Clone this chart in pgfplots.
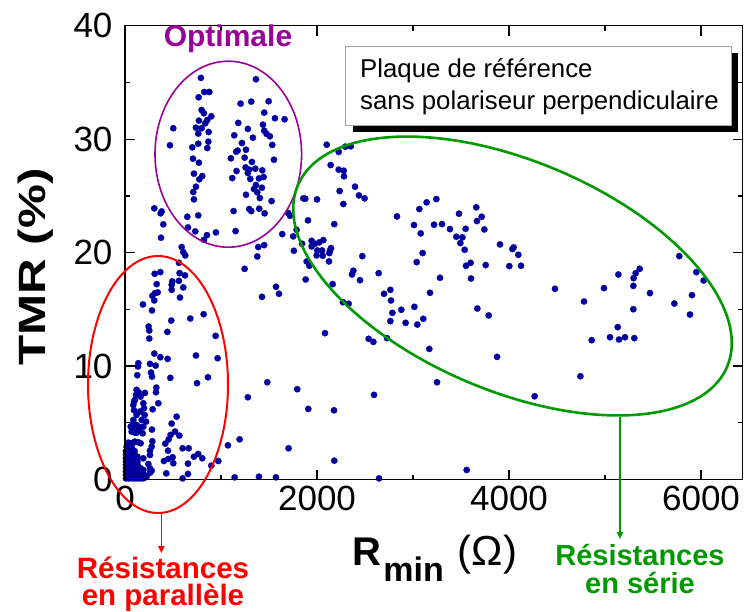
\documentclass[border=0pt]{standalone}
\usepackage{pgfplots}
\pgfplotsset{compat=1.18}
\usepackage{fontspec}
\setmainfont{Liberation Sans}
\definecolor{dotblue}{HTML}{0000A0}
\definecolor{mygreen}{HTML}{009A00}
\definecolor{mypurple}{HTML}{990099}
\newcommand{\fs}[1]{\fontsize{#1}{#1}\selectfont}
\begin{document}
\begin{tikzpicture}
\path[use as bounding box] (-125pt,-131.5pt) rectangle (619pt,479.5pt);
\begin{axis}[
  at={(0pt,0pt)},anchor=south west,
  scale only axis,width=617.7pt,height=453.8pt,
  xmin=0,xmax=6434,ymin=0,ymax=40,
  xtick={0,2000,4000,6000},minor xtick={1000,3000,5000},
  ytick={0,10,20,30,40},minor ytick={5,15,25,35},
  tick align=inside,major tick length=10pt,minor tick length=5pt,
  every tick/.style={black,line width=1.3pt},
  axis line style={line width=1.2pt},
  /pgf/number format/assume math mode=true,
  /pgf/number format/1000 sep={},
  tick label style={font=\fs{35}},
  xticklabel style={yshift=-3pt},
  yticklabel style={xshift=-9pt},
  xlabel={\bfseries\fs{40}R\kern1.5pt\raisebox{-0.42em}{\fs{34}min}\kern14pt\fs{42}\mdseries(Ω)},
  ylabel={\scalebox{1.3}[1]{\bfseries TMR (\%)}},
  xlabel style={font=\fs{38},at={(axis description cs:0.502,-0.1884)},anchor=base},
  ylabel style={font=\fs{38},at={(axis description cs:-0.1295,0.468)},anchor=base},
]
\addplot[only marks,mark=*,mark size=3.2pt,dotblue,mark options={draw=dotblue,fill=dotblue,line width=0.2pt}] table {
x y
562 19.10
309 18.13
368 18.28
569 18.19
625 17.99
330 17.22
493 17.46
562 17.51
486 17.16
607 16.93
486 16.72
340 16.49
312 16.43
285 16.19
305 15.78
573 16.04
187 15.43
281 14.90
819 14.57
680 14.19
482 14.01
246 13.49
253 13.13
441 13.01
253 12.43
944 12.66
305 11.10
368 10.78
444 10.63
739 10.93
965 10.69
139 10.25
135 9.96
260 10.19
319 10.04
271 9.43
281 9.07
128 9.19
472 8.96
864 9.01
750 8.49
1482 8.57
1794 7.96
326 8.10
323 7.69
121 7.90
142 7.69
208 7.63
1280 7.25
104 7.01
347 6.72
191 6.72
87 6.57
1909 6.22
288 6.19
94 6.10
198 6.28
205 5.69
121 5.69
538 5.54
219 5.10
486 4.93
87 4.96
121 4.81
87 4.51
191 4.66
104 4.13
149 4.37
184 4.07
281 4.40
521 4.22
566 3.87
475 3.93
455 3.54
420 3.16
1194 3.54
285 3.37
1072 3.01
139 3.28
87 3.25
35 3.25
278 2.90
260 2.54
600 2.75
663 2.75
448 2.54
1704 2.75
260 2.16
763 2.25
718 2.01
805 1.87
191 1.87
496 1.96
451 1.81
406 1.63
503 1.43
656 1.40
972 1.63
899 1.22
243 1.37
260 0.99
191 0.84
260 0.60
430 0.54
656 0.49
600 0.10
1142 0.19
1395 0.25
1572 0.19
87 5.25
174 5.25
156 5.99
115 7.46
94 6.87
139 4.66
69 4.22
59 4.66
121 4.13
163 7.30
104 3.34
59 3.13
17 2.90
163 3.19
191 0.54
225 0.25
278 0.78
10 0.1
10 0.4
10 0.7
10 1.0
10 1.3
10 1.6
10 1.9
10 2.2
10 2.5
40 0.1
40 0.4
40 0.7
40 1.0
40 1.3
40 1.6
40 1.9
40 2.2
40 2.5
40 2.8
70 0.1
70 0.4
70 0.7
70 1.0
70 1.3
70 1.6
70 1.9
70 2.2
70 2.5
70 2.8
100 0.1
100 0.4
100 0.7
100 1.0
100 1.3
100 1.6
100 1.9
100 2.2
100 2.5
130 0.1
130 0.4
130 0.7
130 1.0
130 1.3
130 1.6
130 2.0
160 0.1
160 0.4
160 0.7
160 1.0
190 0.1
190 0.4
215 0.2
791 35.40
1364 35.28
826 34.16
878 34.16
767 33.69
1204 33.13
1315 33.31
1496 33.34
798 32.57
822 32.28
1450 32.34
899 32.01
1562 31.84
1662 31.75
770 31.63
857 31.69
836 31.40
1180 31.43
1437 31.28
739 31.01
798 30.96
503 30.96
1280 30.90
871 30.63
1450 30.75
763 30.49
1475 30.46
1138 30.34
1509 30.25
1332 30.13
868 29.78
1218 29.66
763 29.60
468 29.46
1534 29.49
701 29.28
857 29.22
1260 29.07
1173 28.99
1159 28.90
708 28.28
1103 28.31
1246 28.37
1551 28.19
770 27.93
1322 27.99
1256 27.51
1294 27.31
1357 27.40
1430 27.25
718 26.96
1162 27.19
1280 27.01
805 26.75
774 26.46
1117 26.57
1305 26.49
1395 26.54
1444 26.66
739 25.81
1364 25.96
1426 25.72
711 25.34
1343 25.60
1378 25.31
1260 25.10
1405 24.81
718 24.69
1527 24.54
305 23.90
382 23.63
371 23.46
1131 23.66
1294 23.84
1315 23.66
1398 23.87
1454 23.46
763 23.28
649 23.16
399 22.49
656 22.22
732 21.87
947 21.78
1152 21.90
854 21.54
375 21.31
822 21.13
590 20.49
607 20.04
628 19.75
1388 20.49
1450 20.66
1378 19.66
1246 18.57
1700 23.49
1718 23.25
1638 21.63
1752 21.43
1787 22.01
1759 20.16
1573 16.99
1604 16.37
1427 16.10
2101 29.51
2295 29.34
2351 29.37
2226 28.87
2142 27.72
2226 27.31
2278 27.22
2281 26.72
2396 25.81
2236 25.43
2437 25.04
2496 24.78
1858 24.78
1878 24.75
2000 24.69
2274 24.28
3243 24.72
3142 24.43
3066 23.84
3659 23.99
3479 23.43
2833 23.19
3715 23.16
3666 22.78
1906 22.84
2180 22.51
3010 22.43
3219 22.46
3302 22.51
3385 22.07
3548 22.10
3743 22.04
3080 21.69
3451 21.40
3514 21.34
3493 20.84
1944 21.04
2066 21.10
2024 20.90
1979 20.78
1944 20.54
1844 20.78
3906 20.72
4048 20.46
4035 20.31
3538 20.25
2146 20.40
2135 20.19
2003 20.19
2052 20.19
1996 19.75
2059 19.72
2128 19.96
3100 19.96
2472 19.69
4097 19.81
3038 19.16
2125 19.22
1892 19.22
1920 18.84
3600 19.10
3552 18.84
3757 18.90
4003 18.81
4125 18.84
2378 18.40
2364 18.07
2642 18.19
2448 17.57
1882 17.63
3281 17.78
3604 17.72
2163 17.22
2764 16.72
2698 16.37
3177 16.46
2771 15.78
2271 15.63
2330 15.49
3014 15.22
3670 15.07
2878 14.96
2785 14.69
3788 14.46
3107 14.16
2764 13.96
2923 13.81
3045 13.66
2083 12.90
2538 12.40
2587 12.13
2729 12.46
3170 11.51
3875 10.81
3250 8.57
2594 7.46
4267 7.34
2177 6.10
2180 1.66
2646 0.10
3559 0.84
5774 19.69
5361 18.57
5951 18.28
5319 18.19
5139 18.07
5298 17.75
6027 17.54
5295 17.07
4989 16.87
4479 16.81
5468 16.43
5906 16.25
4781 15.69
5722 15.51
5295 15.01
5885 14.54
5132 13.43
5052 12.54
5208 12.54
5305 12.46
5146 12.34
4861 12.28
4743 9.10
};
\end{axis}
\begin{scope}[x=1pt,y=-1pt,xshift=-125pt,yshift=479.5pt]
\draw[line width=1.5pt,black] (125,25.7) -- (125,479.5) -- (743,479.5);
% ellipses
\draw[mypurple,line width=1.6pt] (228.3,154.2) ellipse [x radius=73.3pt,y radius=93pt];
\draw[red,line width=2pt] (158,384.5) ellipse [x radius=70pt,y radius=128.5pt];
\draw[mygreen,line width=2.6pt] (512.5,276) ellipse [x radius=233pt,y radius=115pt,rotate=-22.9];
% arrows
\draw[red,line width=1.4pt] (161.4,513) -- (161.4,547);
\fill[red] (158,546) -- (164.8,546) -- (161.4,553) -- cycle;
\draw[mygreen,line width=1.4pt] (620,417) -- (620,533);
\fill[mygreen] (616.6,532) -- (623.4,532) -- (620,539) -- cycle;
% box
\fill[black] (352.5,53) rectangle (738,131.7);
\draw[fill=white,draw=gray!70,line width=0.8pt] (345.7,46) rectangle (731.7,125);
\node[anchor=base west,inner sep=0pt,font=\fs{25.8}] at (360,78) {Plaque de référence};
\node[anchor=base west,inner sep=0pt,font=\fs{25.8}] at (360,110) {sans polariseur perpendiculaire};
% texts
\node[anchor=base,inner sep=0pt,font=\fs{30}\bfseries,text=mypurple] at (228,47) {Optimale};
\node[anchor=base,inner sep=0pt,font=\fs{29.5}\bfseries,text=red] at (163,578) {Résistances};
\node[anchor=base,inner sep=0pt,font=\fs{29.5}\bfseries,text=red] at (163,605) {en parallèle};
\node[anchor=base,inner sep=0pt,font=\fs{29}\bfseries,text=mygreen] at (640,565) {Résistances};
\node[anchor=base,inner sep=0pt,font=\fs{29}\bfseries,text=mygreen] at (640,593) {en série};
\end{scope}
\end{tikzpicture}
\end{document}
